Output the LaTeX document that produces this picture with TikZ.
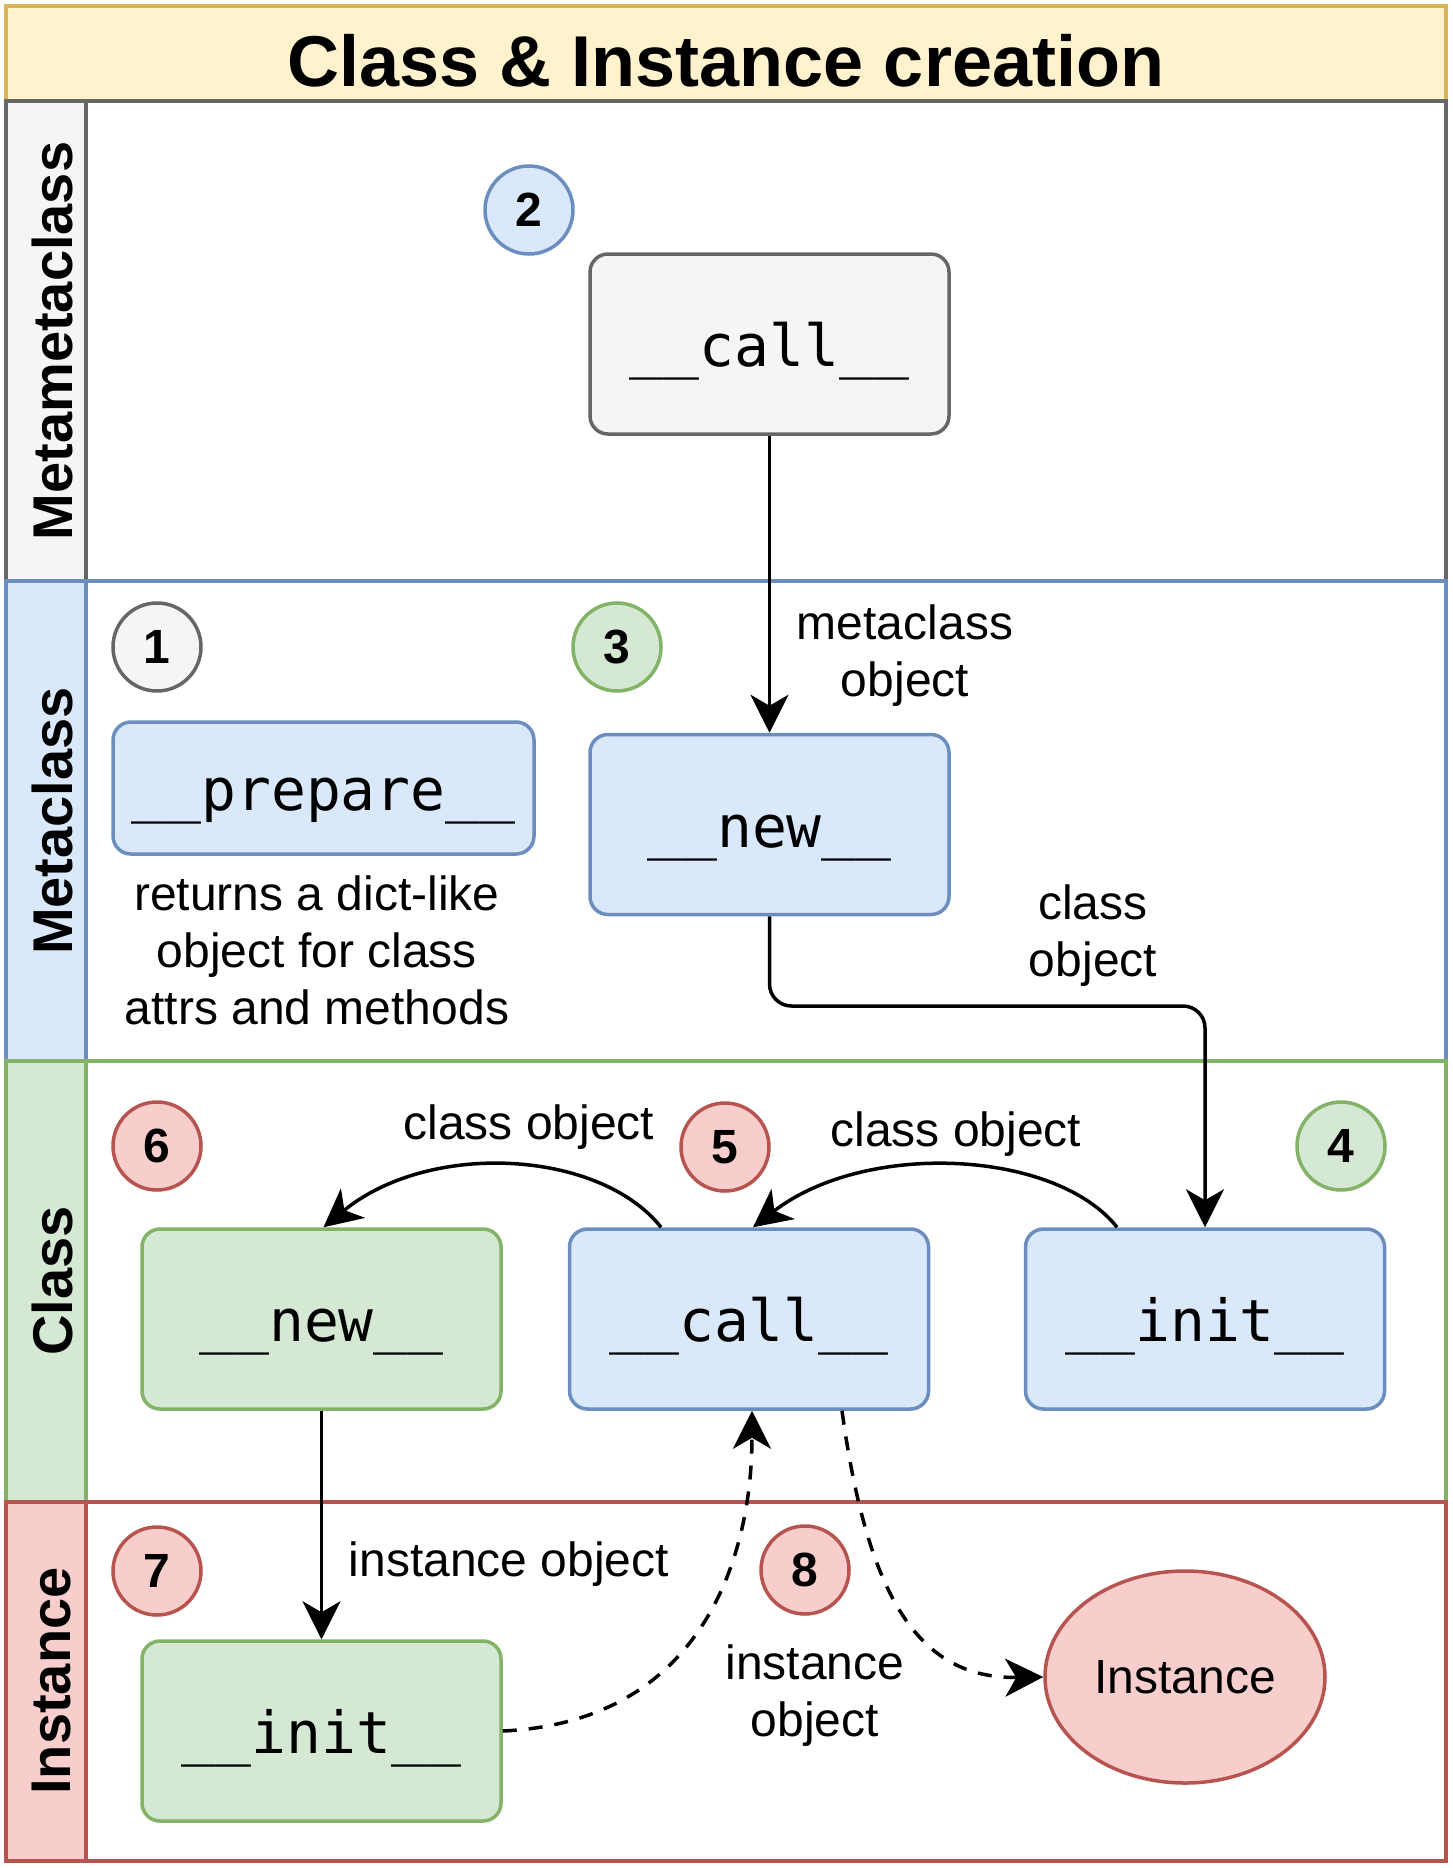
\documentclass[tikz,border=0pt]{standalone}
\usepackage{fontspec}
\setmainfont{Liberation Sans}
\setmonofont{DejaVu Sans Mono}
\usetikzlibrary{arrows.meta,shapes.geometric,calc}
\definecolor{yelF}{HTML}{FFF2CC}\definecolor{yelS}{HTML}{D6B656}
\definecolor{grayF}{HTML}{F5F5F5}\definecolor{grayS}{HTML}{666666}
\definecolor{bluF}{HTML}{DAE8FC}\definecolor{bluS}{HTML}{6C8EBF}
\definecolor{grnF}{HTML}{D5E8D4}\definecolor{grnS}{HTML}{82B366}
\definecolor{redF}{HTML}{F8CECC}\definecolor{redS}{HTML}{B85450}
\tikzset{
  lane/.style={line width=3.5pt},
  lanelabel/.style={rotate=90,font=\fontsize{56}{60}\selectfont\bfseries},
  mbox/.style={rounded corners=18pt,line width=3.5pt,minimum width=359pt,minimum height=180pt,inner sep=0pt,text height=45pt,text depth=0pt,font=\fontsize{58}{64}\selectfont\ttfamily},
  numc/.style={circle,line width=3.5pt,minimum size=88pt,inner sep=0pt,font=\fontsize{48}{52}\selectfont\bfseries},
  lbl/.style={font=\fontsize{48}{57}\selectfont,align=center,inner sep=0pt},
  arr/.style={line width=3.5pt,-{Stealth[length=38pt,width=38pt,inset=11pt]}},
  darr/.style={arr,dash pattern=on 14pt off 12pt},
}
\begin{document}
\begin{tikzpicture}[x=1pt,y=-1pt]
\useasboundingbox (0,0) rectangle (1452,1868);
% title
\draw[fill=yelF,draw=yelS,lane] (6,6) rectangle (1446,101);
\node[font=\fontsize{72}{80}\selectfont\bfseries] (title) at (726,61) {Class \& Instance creation};
% lanes
\draw[lane,draw=grayS,fill=white] (6,101) rectangle (1446,581);
\draw[lane,draw=grayS,fill=grayF] (6,101) rectangle (86,581);
\node[lanelabel] (l1) at (52,341) {Metametaclass};
\draw[lane,draw=bluS,fill=white] (6,581) rectangle (1446,1061);
\draw[lane,draw=bluS,fill=bluF] (6,581) rectangle (86,1061);
\node[lanelabel] (l2) at (52,821) {Metaclass};
\draw[lane,draw=grnS,fill=white] (6,1061) rectangle (1446,1502);
\draw[lane,draw=grnS,fill=grnF] (6,1061) rectangle (86,1502);
\node[lanelabel] (l3) at (52,1281) {Class};
\draw[lane,draw=redS,fill=white] (6,1502) rectangle (1446,1861);
\draw[lane,draw=redS,fill=redF] (6,1502) rectangle (86,1861);
\node[lanelabel] (l4) at (52,1681) {Instance};
% boxes
\node[mbox,draw=grayS,fill=grayF] (callM) at (769.5,344) {\_\_call\_\_};
\node[mbox,draw=bluS,fill=bluF,minimum width=421pt,minimum height=132pt] (prep) at (323.5,788) {\_\_prepare\_\_};
\node[mbox,draw=bluS,fill=bluF] (newM) at (769.5,824.5) {\_\_new\_\_};
\node[mbox,draw=grnS,fill=grnF] (newC) at (321.5,1319) {\_\_new\_\_};
\node[mbox,draw=bluS,fill=bluF] (callC) at (749,1319) {\_\_call\_\_};
\node[mbox,draw=bluS,fill=bluF] (initC) at (1205,1319) {\_\_init\_\_};
\node[mbox,draw=grnS,fill=grnF] (initI) at (321.5,1731) {\_\_init\_\_};
\node[ellipse,draw=redS,fill=redF,line width=3.5pt,minimum width=280pt,minimum height=212pt,inner sep=0pt,font=\fontsize{48}{52}\selectfont] (inst) at (1185,1677) {Instance};
% numbers
\node[numc,draw=bluS,fill=bluF] (n2) at (529,210) {2};
\node[numc,draw=grayS,fill=grayF] (n1) at (157,647) {1};
\node[numc,draw=grnS,fill=grnF] (n3) at (617,647) {3};
\node[numc,draw=redS,fill=redF] (n6) at (157,1146) {6};
\node[numc,draw=redS,fill=redF] (n5) at (725,1147) {5};
\node[numc,draw=grnS,fill=grnF] (n4) at (1341,1146) {4};
\node[numc,draw=redS,fill=redF] (n7) at (157,1571) {7};
\node[numc,draw=redS,fill=redF] (n8) at (805,1570) {8};
% labels
\node[lbl] (t1) at (905,656) {metaclass\\object};
\node[lbl] (t2) at (317,950) {returns a dict-like\\object for class\\attrs and methods};
\node[lbl] (t3) at (1093,936) {class\\object};
\node[lbl] (t4) at (529,1127) {class object};
\node[lbl] (t5) at (956,1134) {class object};
\node[lbl] (t6) at (509,1564) {instance object};
\node[lbl] (t7) at (815,1696) {instance\\object};
% connectors
\coordinate (bend) at (0,1006);
\draw[arr] (callM.south) -- (newM.north);
\draw[arr,rounded corners=22pt] (newM.south) -- (newM.south |- bend) -- (initC.north |- bend) -- (initC.north);
\draw[arr] ([xshift=-88pt]initC.north) .. controls (1056,1150) and (866,1140) .. ([xshift=4pt]callC.north);
\draw[arr] ([xshift=-88pt]callC.north) .. controls (600,1150) and (430,1140) .. ([xshift=2pt]newC.north);
\draw[arr] (newC.south) -- (initI.north);
\draw[darr] (initI.east) .. controls (700,1722) and (752,1560) .. ([xshift=3pt]callC.south);
\draw[darr] ([xshift=93pt]callC.south) .. controls (868,1600) and (920,1679) .. (inst.west);
\end{tikzpicture}
\end{document}
